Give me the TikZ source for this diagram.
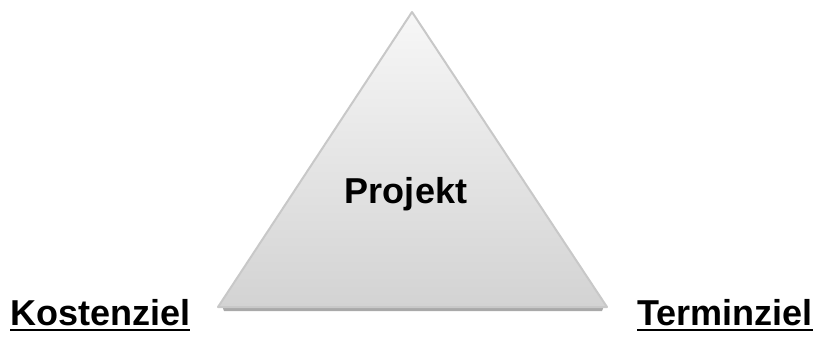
\documentclass[tikz,border=0pt]{standalone}
\usepackage{fontspec}
\setmainfont{Liberation Sans}
\usetikzlibrary{calc}
\definecolor{edgegray}{HTML}{C8C8C8}
\definecolor{shadowgray}{HTML}{A9A9A9}
\definecolor{topgray}{HTML}{F7F7F7}
\definecolor{botgray}{HTML}{D3D3D3}
\tikzset{
  lbl/.style={inner sep=0pt, font=\fontsize{36}{40}\selectfont\bfseries},
  uline/.style={line width=2.5pt, black}
}
\begin{document}
\begin{tikzpicture}[x=1pt,y=-1pt]
\useasboundingbox (0,0) rectangle (818,338);
% shadow
\fill[shadowgray] (222,306) -- (604,306) -- (602,311) -- (224,311) -- cycle;
% triangle
\shade[top color=topgray, bottom color=botgray, draw=edgegray, line width=2pt, line join=round]
  (412,12) coordinate (apex) -- (218,307) coordinate (bl) -- (607,307) coordinate (br) -- cycle;
\node[lbl, anchor=base] (proj) at (406,203) {Projekt};
\node[lbl, anchor=base west] (kost) at (10,325) {Kostenziel};
\node[lbl, anchor=base east] (term) at (813,325) {Terminziel};
\draw[uline] ($(kost.base west)+(0,5)$) -- ($(kost.base east)+(0,5)$);
\draw[uline] ($(term.base west)+(0,5)$) -- ($(term.base east)+(0,5)$);
\end{tikzpicture}
\end{document}
